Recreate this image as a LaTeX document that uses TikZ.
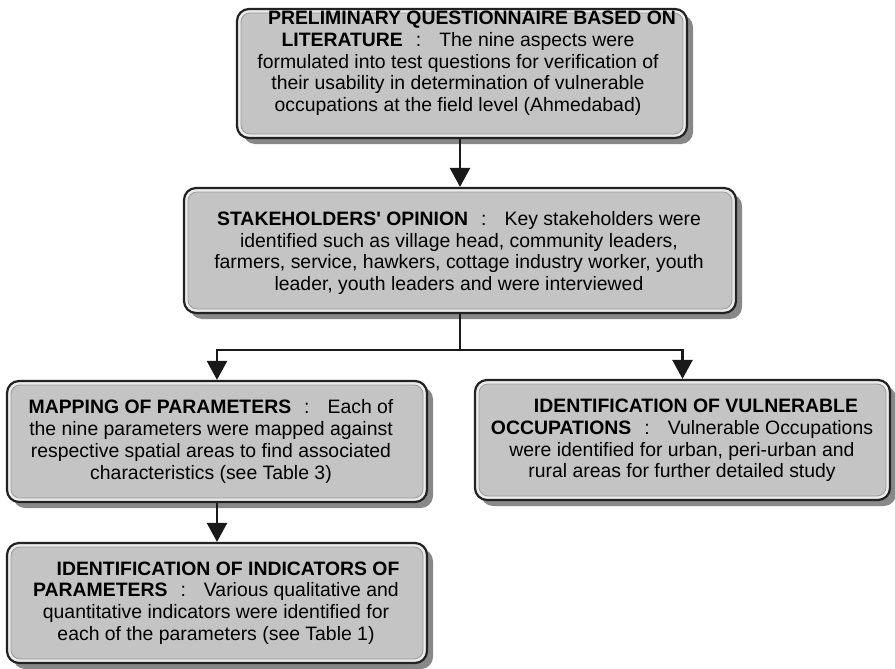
\documentclass[tikz,border=0pt]{standalone}
\usepackage{fontspec}
\setmainfont{Liberation Sans}[Ligatures=TeXOff]
\usetikzlibrary{arrows.meta,shadows,calc}
\definecolor{frame}{HTML}{222222}
\definecolor{band}{HTML}{EBEBEB}
\definecolor{inner}{HTML}{C4C4C4}
\definecolor{inneredge}{HTML}{9C9C9C}
\definecolor{shade}{HTML}{888888}
\newcommand\hdsep{\hspace{13pt}:\hspace{18pt}}
\tikzset{
  box/.style={rectangle, rounded corners=12pt, draw=frame, line width=2.2pt, fill=band, inner sep=0pt,
    drop shadow={shadow xshift=6pt, shadow yshift=-6pt, fill=shade, opacity=1},
    path picture={\draw[fill=inner, draw=inneredge, line width=0.8pt, rounded corners=9pt]
      ([shift={(4pt,4pt)}]path picture bounding box.south west) rectangle
      ([shift={(-4pt,-4pt)}]path picture bounding box.north east);}},
  txt/.style={align=center, font=\fontsize{19.4}{21.7}\selectfont, inner sep=0pt},
  conn/.style={line width=2.6pt, draw=black!90, -{Triangle[width=20pt,length=19pt]}},
}
\begin{document}
\begin{tikzpicture}[x=1pt,y=-1pt]
\useasboundingbox (0,0) rectangle (895,669);
% boxes
\node[box, minimum width=450pt, minimum height=129pt] (b1) at (462,73.5) {};
\node[box, minimum width=552pt, minimum height=125pt] (b2) at (460,250.5) {};
\node[box, minimum width=420pt, minimum height=121pt] (b3) at (217,441.5) {};
\node[box, minimum width=415pt, minimum height=120pt] (b4) at (682.5,440) {};
\node[box, minimum width=420pt, minimum height=120pt] (b5) at (217,603) {};
% texts
\node[txt] (t1) at (458,63.5) {\hspace*{28pt}\textbf{PRELIMINARY QUESTIONNAIRE BASED ON}\\
  \textbf{LITERATURE}\hdsep The nine aspects were\\
  formulated into test questions for verification of\\
  their usability in determination of vulnerable\\
  occupations at the field level (Ahmedabad)};
\node[txt] (t2) at (459,253) {\textbf{STAKEHOLDERS' OPINION}\hdsep Key stakeholders were\\
  identified such as village head, community leaders,\\
  farmers, service, hawkers, cottage industry worker, youth\\
  leader, youth leaders and were interviewed};
\node[txt] (t3) at (211,441.5) {\textbf{MAPPING OF PARAMETERS}\hdsep Each of\\
  the nine parameters were mapped against\\
  respective spatial areas to find associated\\
  characteristics (see Table 3)};
\node[txt] (t4) at (682,440.5) {\hspace*{28pt}\textbf{IDENTIFICATION OF VULNERABLE}\\
  \textbf{OCCUPATIONS}\hdsep Vulnerable Occupations\\
  were identified for urban, peri-urban and\\
  rural areas for further detailed study};
\node[txt] (t5) at (216,603) {\hspace*{24pt}\textbf{IDENTIFICATION OF INDICATORS OF}\\
  \textbf{PARAMETERS}\hdsep Various qualitative and\\
  quantitative indicators were identified for\\
  each of the parameters (see Table 1)};
% connectors
\coordinate (split) at ($(b2.south)+(0,36)$);
\draw[conn] (b1.south -| b2.north) -- (b2.north);
\draw[conn] (b2.south) -- (split) -| (b3.north);
\draw[conn] (split) -| (b4.north);
\draw[conn] (b3.south) -- (b5.north);
\end{tikzpicture}
\end{document}
